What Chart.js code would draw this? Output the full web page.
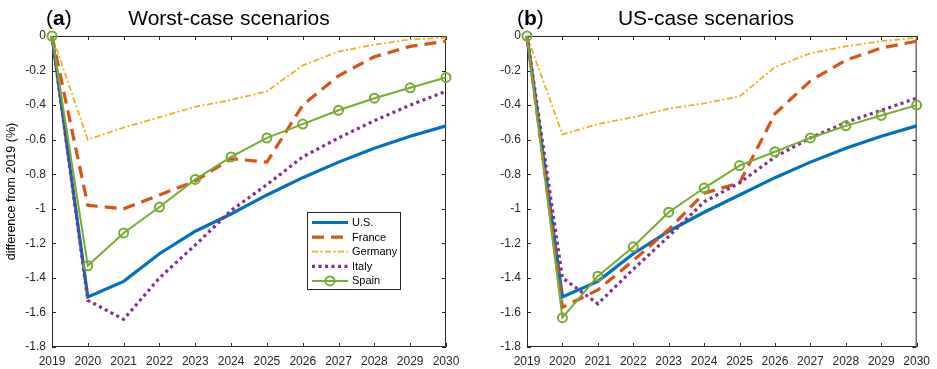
<!DOCTYPE html>
<html>
<head>
<meta charset="utf-8">
<script src="https://cdn.jsdelivr.net/npm/chart.js@4.4.1/dist/chart.umd.min.js"></script>
<style>
    html, body { margin: 0; padding: 0; background: #fff; }
    body { width: 937px; height: 369px; position: relative; overflow: hidden; font-family: "Liberation Sans", Arial, sans-serif; }
    .panel { position: absolute; top: 0; height: 369px; }
    .head { position: absolute; top: 5px; font-size: 21px; line-height: 26px; color: #000; white-space: nowrap; }
    .center { transform: translateX(-50%); }
</style>
</head>
<body>
<div class="panel" style="left:0;width:470px"><canvas id="chartA" width="470" height="369"></canvas></div>
<div class="panel" style="left:470px;width:467px"><canvas id="chartB" width="467" height="369"></canvas></div>
<div class="head" style="left:46px">(<b>a</b>)</div>
<div class="head center" style="left:229px">Worst-case scenarios</div>
<div class="head" style="left:517px">(<b>b</b>)</div>
<div class="head center" style="left:706px">US-case scenarios</div>

<script>
// Data
const years = [2019, 2020, 2021, 2022, 2023, 2024, 2025, 2026, 2027, 2028, 2029, 2030];
const yTicks = [0, -0.2, -0.4, -0.6, -0.8, -1, -1.2, -1.4, -1.6, -1.8];
const countries = ['U.S.', 'France', 'Germany', 'Italy', 'Spain'];

// (a) worst-case scenarios
const worstUS      = [0, -1.51, -1.42, -1.26, -1.13, -1.03, -0.92, -0.82, -0.73, -0.65, -0.58, -0.52];
const worstFrance  = [0, -0.98, -1.00, -0.92, -0.84, -0.71, -0.73, -0.40, -0.23, -0.12, -0.06, -0.03];
const worstGermany = [0, -0.60, -0.53, -0.47, -0.41, -0.37, -0.32, -0.17, -0.09, -0.05, -0.02, -0.01];
const worstItaly   = [0, -1.53, -1.64, -1.40, -1.21, -1.01, -0.86, -0.70, -0.59, -0.49, -0.40, -0.32];
const worstSpain   = [0, -1.33, -1.14, -0.99, -0.83, -0.70, -0.59, -0.51, -0.43, -0.36, -0.30, -0.24];

// (b) US-case scenarios
const usUS      = [0, -1.51, -1.42, -1.26, -1.13, -1.02, -0.92, -0.82, -0.73, -0.65, -0.58, -0.52];
const usFrance  = [0, -1.57, -1.47, -1.30, -1.12, -0.91, -0.85, -0.45, -0.26, -0.14, -0.07, -0.03];
const usGermany = [0, -0.57, -0.51, -0.47, -0.42, -0.39, -0.35, -0.18, -0.10, -0.06, -0.03, -0.01];
const usItaly   = [0, -1.40, -1.55, -1.35, -1.16, -0.96, -0.85, -0.70, -0.59, -0.50, -0.43, -0.36];
const usSpain   = [0, -1.63, -1.39, -1.22, -1.02, -0.88, -0.75, -0.67, -0.59, -0.52, -0.46, -0.40];

const axisColor = '#262626';
const fontFamily = '"Liberation Sans", Arial, sans-serif';

// MATLAB default colour order and line styles
const styles = [
    { color: '#0072BD', width: 3.2, dash: [] },
    { color: '#D95319', width: 3.2, dash: [12, 7] },
    { color: '#EDB120', width: 1.8, dash: [6, 2.5, 2, 2.5] },
    { color: '#7E2F8E', width: 3.2, dash: [3, 3.5] },
    { color: '#77AC30', width: 2, dash: [], marker: true }
];

function buildDatasets(seriesList) {
    return seriesList.map((values, i) => {
        const s = styles[i];
        return {
            label: countries[i],
            data: values.map((v, k) => ({ x: years[k], y: v })),
            borderColor: s.color,
            borderWidth: s.width,
            borderDash: s.dash,
            borderCapStyle: 'butt',
            pointRadius: s.marker ? 4.5 : 0,
            pointBorderWidth: 2,
            pointBorderColor: s.color,
            pointBackgroundColor: 'rgba(0,0,0,0)',
            tension: 0,
            clip: false,
            order: seriesList.length - i
        };
    });
}

// Box around the plot with inward tick marks on all four sides
const boxTicks = {
    id: 'boxTicks',
    beforeDatasetsDraw(chart) {
        const { ctx, chartArea: a, scales: { x, y } } = chart;
        const len = 4;
        ctx.save();
        ctx.strokeStyle = axisColor;
        ctx.lineWidth = 1;
        ctx.beginPath();
        ctx.rect(a.left + 0.5, a.top + 0.5, a.right - a.left - 1, a.bottom - a.top - 1);
        x.ticks.forEach(t => {
            const px = Math.round(x.getPixelForValue(t.value)) + 0.5;
            ctx.moveTo(px, a.bottom); ctx.lineTo(px, a.bottom - len);
            ctx.moveTo(px, a.top); ctx.lineTo(px, a.top + len);
        });
        y.ticks.forEach(t => {
            const py = Math.round(y.getPixelForValue(t.value)) + 0.5;
            ctx.moveTo(a.left, py); ctx.lineTo(a.left + len, py);
            ctx.moveTo(a.right, py); ctx.lineTo(a.right - len, py);
        });
        ctx.stroke();
        ctx.restore();
    }
};

// Boxed legend inside panel (a)
const boxLegend = {
    id: 'boxLegend',
    afterDraw(chart, args, opts) {
        if (!opts.show) return;
        const ctx = chart.ctx;
        const left = 307, top = 212, w = 93, h = 77;
        ctx.save();
        ctx.fillStyle = '#fff';
        ctx.fillRect(left, top, w, h);
        ctx.strokeStyle = axisColor;
        ctx.lineWidth = 1;
        ctx.strokeRect(left + 0.5, top + 0.5, w, h);
        ctx.font = '11px ' + fontFamily;
        ctx.textBaseline = 'middle';
        chart.data.datasets.forEach((ds, i) => {
            const yy = top + 10.5 + i * 14.6;
            ctx.strokeStyle = ds.borderColor;
            ctx.lineWidth = ds.borderWidth;
            ctx.setLineDash(ds.borderDash);
            ctx.beginPath();
            ctx.moveTo(left + 5, yy);
            ctx.lineTo(left + 41, yy);
            ctx.stroke();
            ctx.setLineDash([]);
            if (ds.pointRadius > 0) {
                ctx.lineWidth = ds.pointBorderWidth;
                ctx.beginPath();
                ctx.arc(left + 23, yy, ds.pointRadius, 0, Math.PI * 2);
                ctx.stroke();
            }
            ctx.fillStyle = '#000';
            ctx.fillText(ds.label, left + 45, yy + 0.5);
        });
        ctx.restore();
    }
};

function makeChart(canvasId, seriesList, yWidth, padRight, withLabel) {
    return new Chart(document.getElementById(canvasId), {
        type: 'line',
        data: { datasets: buildDatasets(seriesList) },
        plugins: [boxTicks, boxLegend],
        options: {
            responsive: false,
            animation: false,
            layout: { padding: { left: 0, top: 36, right: padRight, bottom: 0 } },
            scales: {
                x: {
                    type: 'linear',
                    min: years[0],
                    max: years[years.length - 1],
                    afterBuildTicks: s => { s.ticks = years.map(v => ({ value: v })); },
                    afterFit: s => { s.height = 22; },
                    grid: { display: false, drawTicks: false },
                    border: { display: false },
                    ticks: {
                        padding: 7,
                        maxRotation: 0,
                        autoSkip: false,
                        color: axisColor,
                        font: { family: fontFamily, size: 12 },
                        callback: v => String(v)
                    }
                },
                y: {
                    type: 'linear',
                    min: -1.8,
                    max: 0,
                    afterBuildTicks: s => { s.ticks = yTicks.map(v => ({ value: v })); },
                    afterFit: s => { s.width = yWidth; },
                    grid: { display: false, drawTicks: false },
                    border: { display: false },
                    title: {
                        display: withLabel,
                        text: 'difference from 2019 (%)',
                        color: '#000',
                        font: { family: fontFamily, size: 12.5 },
                        padding: { top: 4, bottom: 0 }
                    },
                    ticks: {
                        padding: 6,
                        autoSkip: false,
                        color: axisColor,
                        font: { family: fontFamily, size: 12 },
                        callback: v => (v === 0 ? '0' : String(Math.round(v * 10) / 10))
                    }
                }
            },
            plugins: {
                legend: { display: false },
                tooltip: { enabled: false },
                boxLegend: { show: withLabel }
            }
        }
    });
}

makeChart('chartA', [worstUS, worstFrance, worstGermany, worstItaly, worstSpain], 52, 24, true);
makeChart('chartB', [usUS, usFrance, usGermany, usItaly, usSpain], 57, 15, false);
</script>
</body>
</html>
